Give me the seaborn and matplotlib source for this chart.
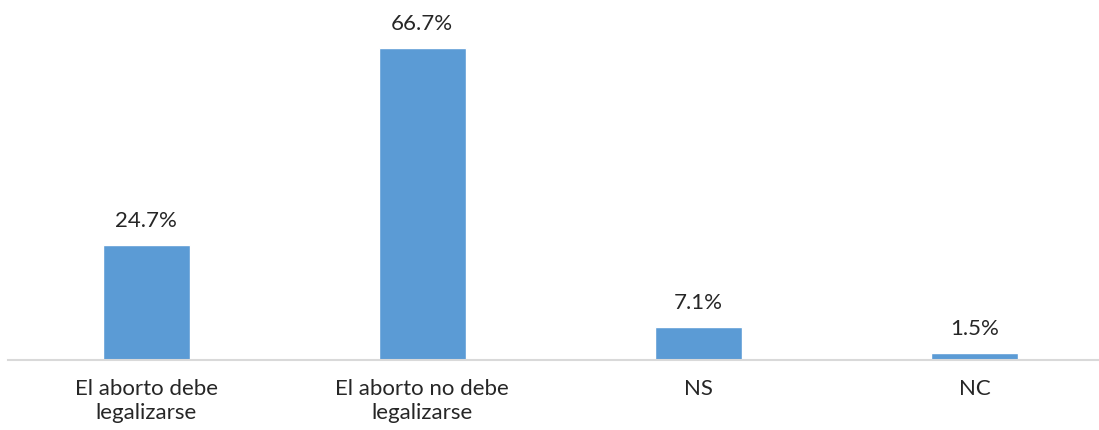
import matplotlib

matplotlib.use("Agg")
import matplotlib.pyplot as plt
import pandas as pd
import seaborn as sns

categories = ["El aborto debe\nlegalizarse", "El aborto no debe\nlegalizarse", "NS", "NC"]
values = [24.7, 66.7, 7.1, 1.5]

df = pd.DataFrame({"cat": categories, "pct": values})

sns.set_style("white")
plt.rcParams["font.family"] = ["Lato", "DejaVu Sans"]

fig = plt.figure(figsize=(10.99, 4.30), dpi=100)
ax = fig.add_axes([8 / 1099, 70 / 430, 1 - 8 / 1099, 360 / 430])
sns.barplot(data=df, x="cat", y="pct", color="#5B9BD5", saturation=1, width=0.315, ax=ax)

ax.bar_label(ax.containers[0], labels=[f"{v:.1f}%" for v in values],
             padding=10, fontsize=16, color="#262626")

ax.set_xlim(-0.5, 3.45)
ax.set_ylim(0, 77)
ax.set_xlabel("")
ax.set_ylabel("")
ax.set_yticks([])
ax.tick_params(axis="x", length=0, pad=14, labelsize=16, labelcolor="#262626")
for s in ["top", "right", "left"]:
    ax.spines[s].set_visible(False)
ax.spines["bottom"].set_color("#D9D9D9")
ax.spines["bottom"].set_linewidth(1.5)

fig.savefig("out.png", dpi=100)
